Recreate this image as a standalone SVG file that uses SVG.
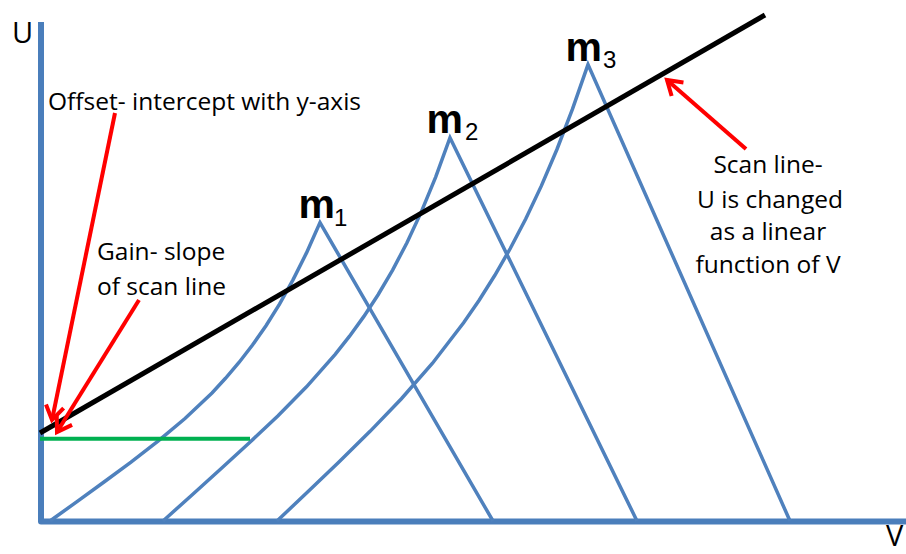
<svg xmlns="http://www.w3.org/2000/svg" width="906" height="554" viewBox="0 0 906 554">
  <style>
    .lbl { font-family: "Open Sans", "Liberation Sans", sans-serif; font-size: 24.5px; fill: #000; }
    .axl { font-family: "Open Sans", "Liberation Sans", sans-serif; font-size: 29px; fill: #000; }
    .m { font-family: "Liberation Sans", Arial, sans-serif; font-size: 41px; font-weight: bold; fill: #000; }
    .sub { font-family: "Liberation Sans", Arial, sans-serif; font-size: 24px; fill: #000; }
    .curve { fill: none; stroke: #4F81BD; stroke-width: 3.5; stroke-linejoin: miter; }
    .arrow { fill: none; stroke: #FF0000; stroke-width: 4; marker-end: url(#chev); }
  </style>
  <defs>
    <marker id="chev" markerUnits="userSpaceOnUse" markerWidth="30" markerHeight="30" refX="0" refY="0" orient="auto" overflow="visible">
      <path d="M-14,-9 L0,0 L-14,9" fill="none" stroke="#FF0000" stroke-width="4" stroke-linejoin="miter"/>
    </marker>
  </defs>
  <rect width="906" height="554" fill="#FFFFFF"/>

  <g id="axes">
    <path d="M41,22 V521.5 H906" fill="none" stroke="#4A7EBB" stroke-width="6" stroke-linejoin="round"/>
  </g>

  <g id="curves">
    <path id="curve-m1" class="curve" d="M50,521 L77,501.6 L104,482 L131,462.1 L158,441.2 L185,418.5 L212,392.9 L225.5,378.3 L239,362.5 L252.5,345 L266,325.7 L279.5,304.1 L293,279.9 L306.5,252.9 L320,222.6 L493,521"/>
    <path id="curve-m2" class="curve" d="M163,521 L191.7,495.2 L220.4,469.3 L249.1,443 L277.8,415.9 L306.5,386.8 L335.2,354.4 L349.55,336.2 L363.9,316.4 L378.25,294.5 L392.6,270.1 L406.95,242.7 L421.3,211.9 L435.65,177.1 L450,137.7 L637,521"/>
    <path id="curve-m3" class="curve" d="M277,521 L308.1,491.5 L339.2,461.7 L370.3,431.1 L401.4,398.7 L432.5,363.2 L463.6,322.8 L479.15,300.3 L494.7,275.5 L510.25,248.5 L525.8,218.7 L541.35,185.9 L556.9,149.5 L572.45,109.2 L588,64.6 L790,521"/>
  </g>

  <g id="offset-line">
    <line x1="40" y1="438.7" x2="250" y2="438.7" stroke="#00B050" stroke-width="4"/>
  </g>

  <g id="scan-line">
    <line x1="40" y1="433" x2="765" y2="15" stroke="#000000" stroke-width="5"/>
  </g>

  <g id="connectors">
    <line id="arrow-offset" class="arrow" x1="115" y1="113" x2="52" y2="420"/>
    <line id="arrow-gain" class="arrow" x1="139" y1="300" x2="57" y2="432"/>
    <line id="arrow-scan" class="arrow" x1="746" y1="149" x2="667" y2="80"/>
  </g>

  <g id="label-U"><text class="axl" x="12" y="43">U</text></g>
  <g id="label-V"><text class="axl" x="886" y="546" font-size="26">V</text></g>

  <g id="label-m1"><text class="m" x="298.5" y="218">m</text><text class="sub" x="334" y="226">1</text></g>
  <g id="label-m2"><text class="m" x="426.5" y="133">m</text><text class="sub" x="465" y="140">2</text></g>
  <g id="label-m3"><text class="m" x="565.5" y="61">m</text><text class="sub" x="603" y="68">3</text></g>

  <g id="label-offset"><text class="lbl" x="48" y="110">Offset- intercept with y-axis</text></g>
  <g id="label-gain">
    <text class="lbl" x="97" y="260">Gain- slope</text>
    <text class="lbl" x="97" y="295">of scan line</text>
  </g>
  <g id="label-scan">
    <text class="lbl" text-anchor="middle" x="768" y="173">Scan line-</text>
    <text class="lbl" text-anchor="middle" x="770" y="208">U is changed</text>
    <text class="lbl" text-anchor="middle" x="768" y="240">as a linear</text>
    <text class="lbl" text-anchor="middle" x="768" y="273">function of V</text>
  </g>
</svg>
